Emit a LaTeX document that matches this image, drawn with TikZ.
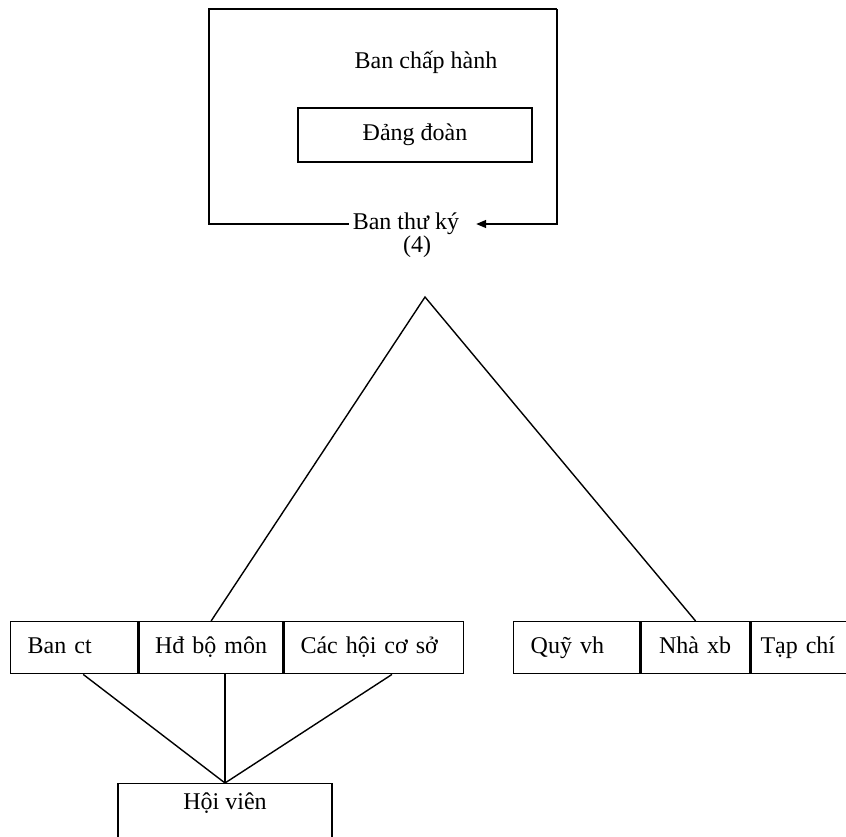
\documentclass[tikz,border=0pt]{standalone}
\usepackage{fontspec}
\setmainfont{Liberation Serif}
\usetikzlibrary{arrows.meta,calc}
\begin{document}
\begin{tikzpicture}[x=1pt,y=-1pt, line width=1.4pt,
  every node/.style={font=\fontsize{24}{28}\selectfont},
  cell/.style={draw, anchor=north west, minimum height=52pt, inner ysep=0pt, align=left,
    text height=17pt, text depth=5pt},
  box/.style={draw}]
\useasboundingbox (0,0) rectangle (846,836);
\clip (0,0) rectangle (846,836);
\fill[white] (0,0) rectangle (846,836);

% top frame
\coordinate (tl) at (209,9);
\coordinate (tr) at (557,9);
\node (bch) at (426,62) {Ban chấp hành};
\node[box, minimum width=234pt, minimum height=54pt] (dd) at (415,135) {Đảng đoàn};
\node (btk) at (406,224) {Ban thư ký};
\node (four) at (417,247) {(4)};
\draw (btk.west) -| (tl) -- (tr);
\draw[-{Triangle[length=10pt,width=8pt]}, shorten >=13pt] (tr) |- (btk.east);

% triangle
\coordinate (apex) at (425,297);

% left row
\node[cell, text width=93pt, inner xsep=17pt] (banct) at (10,621) {Ban ct};
\node[cell, text width=112pt, inner xsep=16pt] (hd) at (banct.north east) {Hđ bộ môn};
\node[cell, text width=147pt, inner xsep=16pt] (cac) at (hd.north east) {Các hội cơ sở};

% right row
\node[cell, text width=92pt, inner xsep=17pt] (quy) at (513,621) {Quỹ vh};
\node[cell, text width=73pt, inner xsep=18pt] (nxb) at (quy.north east) {Nhà xb};
\node[cell, text width=104pt, inner xsep=9pt] (tc) at (nxb.north east) {Tạp chí};

\draw (hd.north) -- (apex) -- (nxb.north);

% Hoi vien
\node[box, anchor=north, minimum width=214pt, minimum height=90pt] (hv) at (225,783) {};
\node (hvt) at (225,803) {Hội viên};

\draw ([xshift=9pt]banct.south) -- (hv.north);
\draw (hd.south -| hv.north) -- (hv.north);
\draw ([xshift=18pt]cac.south) -- (hv.north);
\end{tikzpicture}
\end{document}
